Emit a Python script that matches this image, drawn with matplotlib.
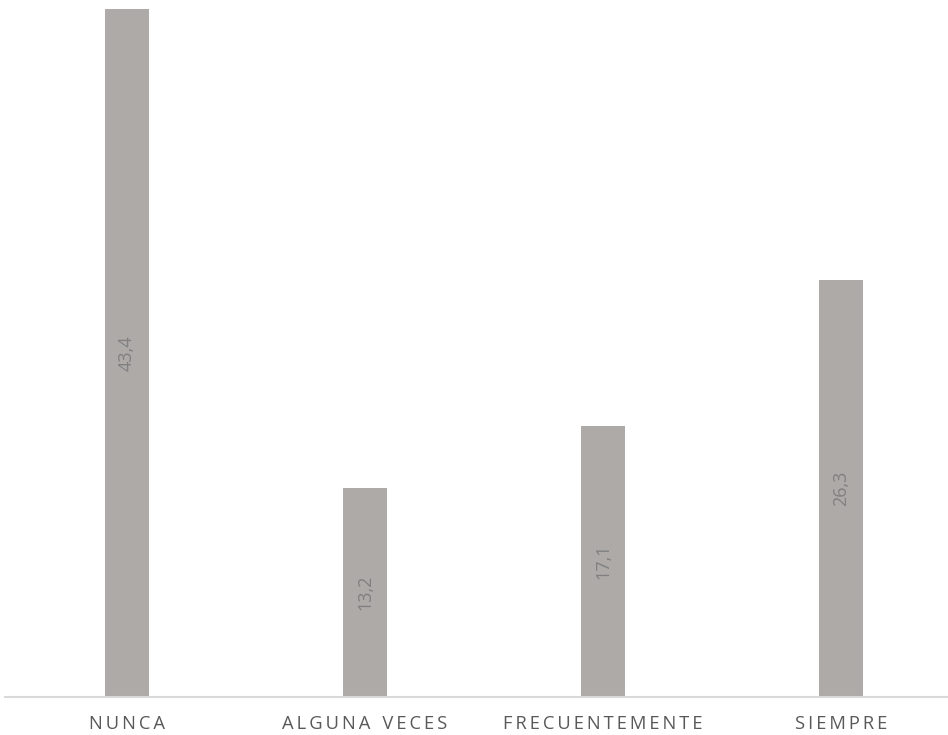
import matplotlib.pyplot as plt

categories = ["NUNCA", "ALGUNA VECES", "FRECUENTEMENTE", "SIEMPRE"]
values = [43.4, 13.2, 17.1, 26.3]
value_labels = ["43,4", "13,2", "17,1", "26,3"]

BAR_COLOR = "#adaaa8"
TEXT_COLOR = "#595959"


def spaced(label):
    # mimic the wide character spacing of the original axis labels
    return "\u2009".join(label).replace("\u2009 \u2009", "\u2009\u2009\u2009\u2009")


fig = plt.figure(figsize=(9.48, 7.35), dpi=100)
ax = fig.add_axes([5 / 948, 38 / 735, 943 / 948, 697 / 735])

x = list(range(len(categories)))
bars = ax.bar(x, values, width=44 / 238, color=BAR_COLOR, zorder=2)

for bar, lab in zip(bars, value_labels):
    ax.text(bar.get_x() + bar.get_width() / 2, bar.get_height() / 2, lab,
            rotation=90, ha="center", va="center", fontsize=13,
            color="#808080", family="Open Sans")

ax.set_xlim((5 - 127) / 238, (948 - 127) / 238)
ax.set_ylim(0, 697 / (688 / 43.4))

for side in ["top", "right", "left"]:
    ax.spines[side].set_visible(False)
ax.spines["bottom"].set_color("#d9d9d9")
ax.spines["bottom"].set_linewidth(1.5)

ax.set_yticks([])
ax.set_xticks(x)
ax.set_xticklabels([spaced(c) for c in categories], fontsize=13.2,
                   color=TEXT_COLOR, family=["Open Sans", "DejaVu Sans"])
ax.tick_params(axis="x", length=0, pad=13)

fig.savefig("out.png", dpi=100)
